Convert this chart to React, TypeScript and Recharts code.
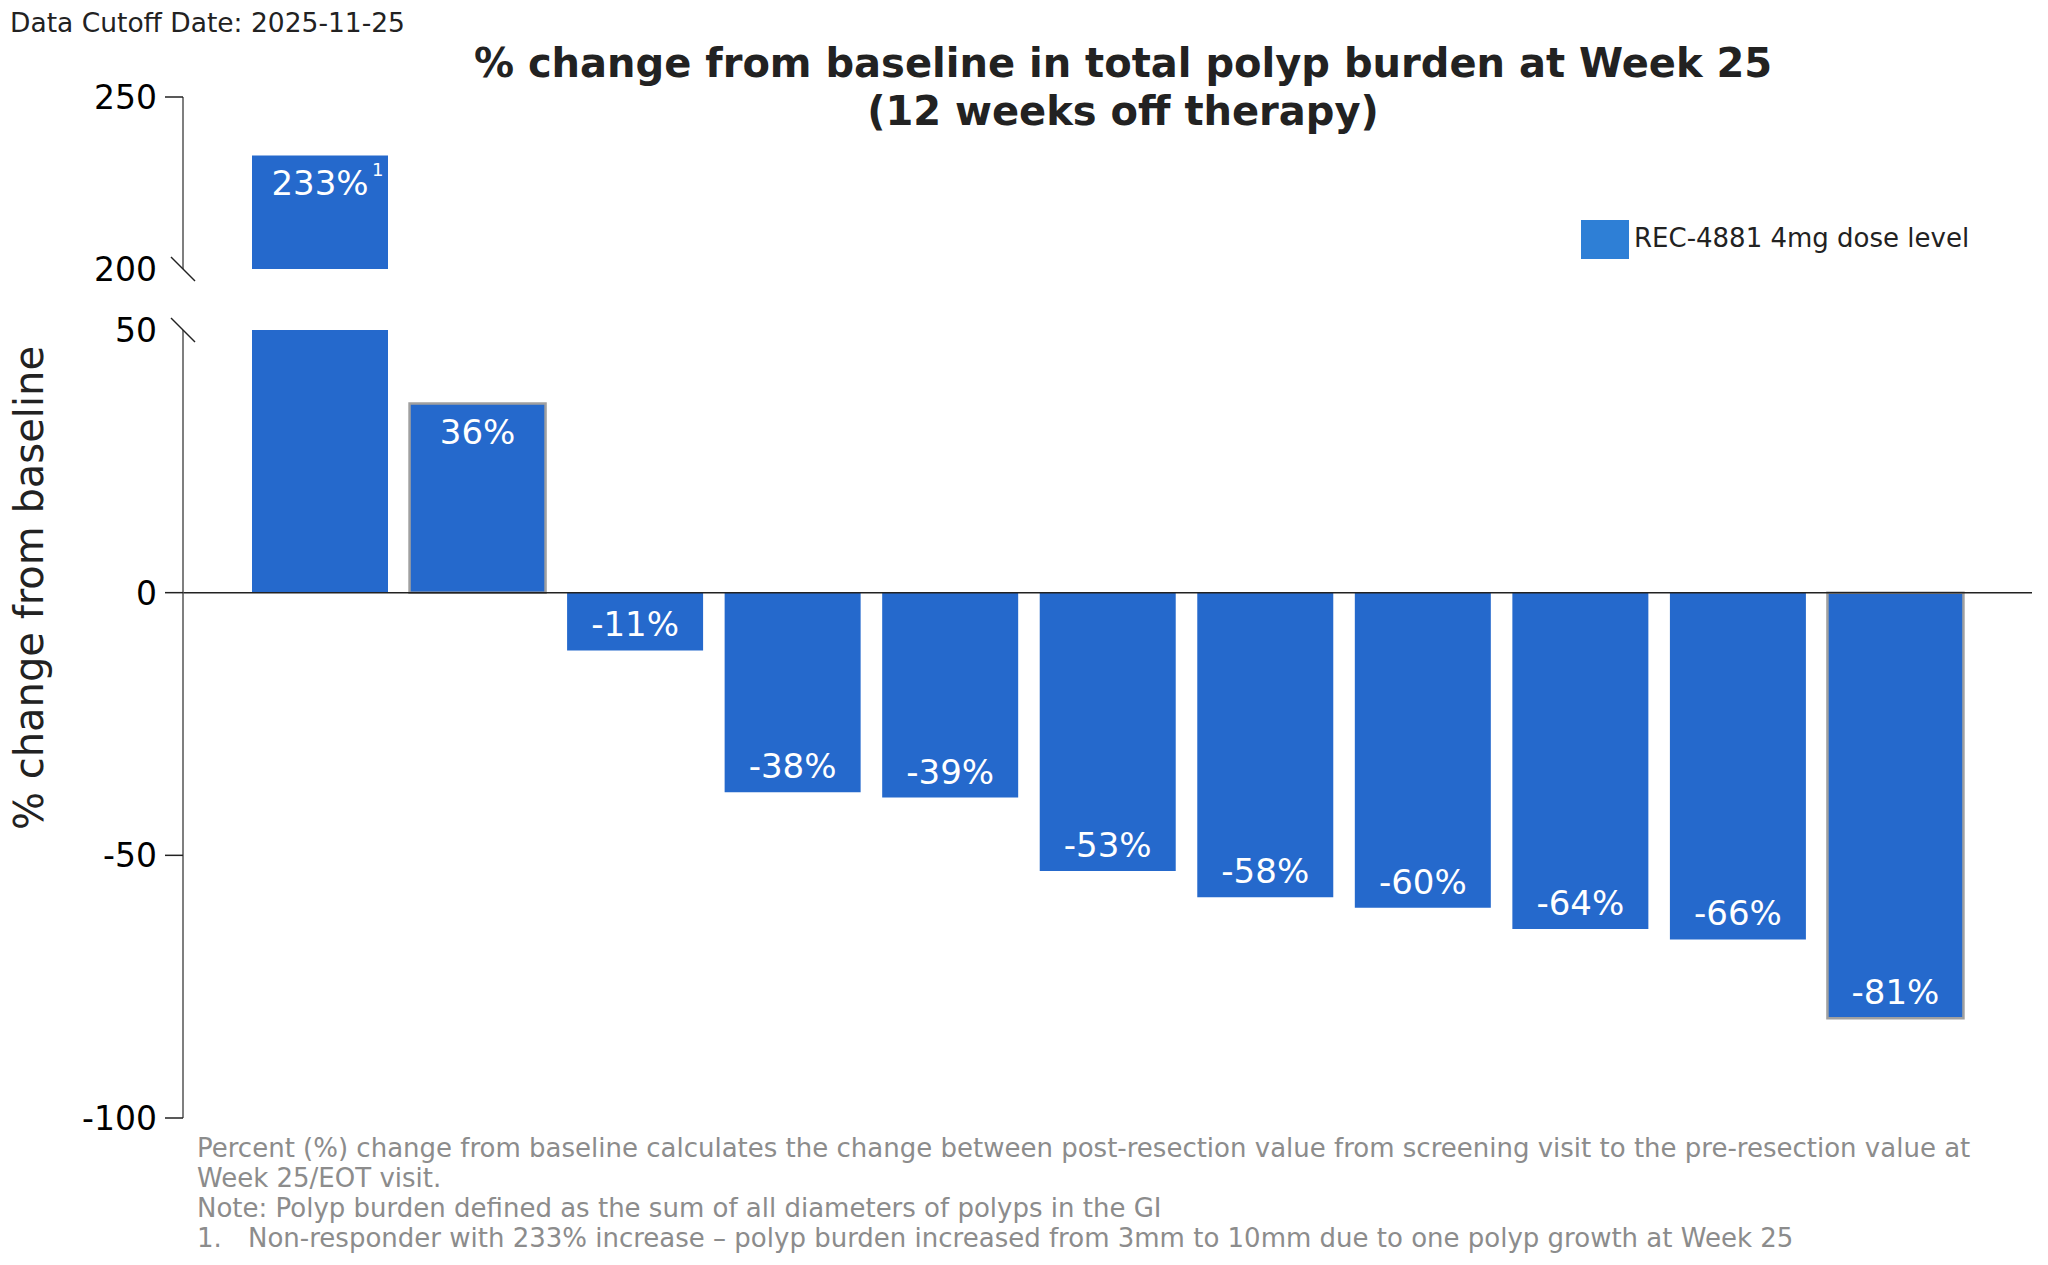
import { BarChart, Bar, XAxis, YAxis, Cell, LabelList, ReferenceLine } from 'recharts';

const patients = ['P01', 'P02', 'P03', 'P04', 'P05', 'P06', 'P07', 'P08', 'P09', 'P10', 'P11'];
const changePct = [233, 36, -11, -38, -39, -53, -58, -60, -64, -66, -81];
const footnoteMarks = ['1', '', '', '', '', '', '', '', '', '', ''];
const lowerTicks = [-100, -50, 0, 50];
const upperTicks = [200, 250];
const breakTicks = [50, 200];
const outlinedBars = ['P02', 'P11'];

const seriesName = 'REC-4881 4mg dose level';
const cutoffText = 'Data Cutoff Date: 2025-11-25';
const titleLines = ['% change from baseline in total polyp burden at Week 25', '(12 weeks off therapy)'];
const yLabel = '% change from baseline';
const notes = [
  'Percent (%) change from baseline calculates the change between post-resection value from screening visit to the pre-resection value at',
  'Week 25/EOT visit.',
  'Note: Polyp burden defined as the sum of all diameters of polyps in the GI',
];
const numberedNote = ['1.', 'Non-responder with 233% increase \u2013 polyp burden increased from 3mm to 10mm due to one polyp growth at Week 25'];

const FONT = '"DejaVu Sans", Verdana, sans-serif';
const BAR = '#2569CC';
const LEGEND_BLUE = '#2E7FD6';
const NOTE_GREY = '#8C8C8C';
const TICK_SIZE = 18;
const TICK_MARGIN = 8;
const LOWER_MAX = 50;

const data = patients.map((id, i) => ({
  id,
  lower: changePct[i],
  upper: changePct[i] >= 200 ? changePct[i] : null,
  note: footnoteMarks[i],
}));

const AxisTick = (props: any) => {
  const { x, y, payload } = props;
  const ax = x + TICK_SIZE + TICK_MARGIN;
  const isBreak = breakTicks.includes(payload.value);
  return (
    <g>
      {isBreak ? (
        <line x1={ax - 12} y1={y - 12} x2={ax + 12} y2={y + 12} stroke="#222" strokeWidth={1.5} />
      ) : (
        <line x1={ax - TICK_SIZE} y1={y} x2={ax} y2={y} stroke="#222" strokeWidth={1.5} />
      )}
      <text x={x} y={y} dy="0.36em" textAnchor="end" fontSize={33} fill="#000" fontFamily={FONT}>
        {payload.value}
      </text>
    </g>
  );
};

const barLabel = (maxShown: number) => (props: any) => {
  const { x, y, width, height, value, index } = props;
  if (value == null || value > maxShown) return null;
  const top = Math.min(y, y + height);
  const bottom = Math.max(y, y + height);
  const cx = x + width / 2;
  const ty = value >= 0 ? top + 40 : bottom - 14;
  const mark = data[index] ? data[index].note : '';
  return (
    <g>
      <text x={cx} y={ty} textAnchor="middle" fontSize={34} fill="#fff" fontFamily={FONT}>
        {`${value}%`}
      </text>
      {mark && maxShown > LOWER_MAX ? (
        <text x={cx + 52} y={ty - 19} fontSize={18} fill="#fff" fontFamily={FONT}>
          {mark}
        </text>
      ) : null}
    </g>
  );
};

export default function App() {
  return (
    <div style={{ position: 'relative', width: 2048, height: 1265, margin: -8, background: '#fff', overflow: 'hidden' }}>
      <div style={{ position: 'absolute', left: 0, top: 0 }}>
        <BarChart width={2048} height={1130} data={data} margin={{ top: 330, right: 16, left: 0, bottom: 12 }} barSize={136}>
          <XAxis
            dataKey="id"
            padding={{ left: 58, right: 58 }}
            tick={false}
            tickLine={false}
            height={0}
            axisLine={{ stroke: '#333', strokeWidth: 2 }}
          />
          <YAxis
            width={183}
            type="number"
            domain={[-100, 50]}
            ticks={lowerTicks}
            interval={0}
            allowDataOverflow
            tickLine={false}
            tickSize={TICK_SIZE}
            tickMargin={TICK_MARGIN}
            tick={<AxisTick />}
            axisLine={{ stroke: '#555', strokeWidth: 1.5 }}
          />
          <ReferenceLine y={0} stroke="#222" strokeWidth={1.5} />
          <Bar dataKey="lower" fill={BAR} isAnimationActive={false}>
            {data.map((d) => (
              <Cell
                key={d.id}
                stroke={outlinedBars.includes(d.id) ? '#A0A0A0' : 'none'}
                strokeWidth={outlinedBars.includes(d.id) ? 2.5 : 0}
              />
            ))}
            <LabelList dataKey="lower" content={barLabel(LOWER_MAX)} />
          </Bar>
        </BarChart>
      </div>
      <div style={{ position: 'absolute', left: 0, top: 0 }}>
        <BarChart width={2048} height={290} data={data} margin={{ top: 97, right: 16, left: 0, bottom: 21 }} barSize={136}>
          <XAxis dataKey="id" hide padding={{ left: 58, right: 58 }} />
          <YAxis
            width={183}
            type="number"
            domain={[200, 250]}
            ticks={upperTicks}
            interval={0}
            allowDataOverflow
            tickLine={false}
            tickSize={TICK_SIZE}
            tickMargin={TICK_MARGIN}
            tick={<AxisTick />}
            axisLine={{ stroke: '#555', strokeWidth: 1.5 }}
          />
          <Bar dataKey="upper" name={seriesName} fill={BAR} isAnimationActive={false}>
            <LabelList dataKey="upper" content={barLabel(Infinity)} />
          </Bar>
        </BarChart>
      </div>
      <svg
        width={2048}
        height={1265}
        style={{ position: 'absolute', left: 0, top: 0, pointerEvents: 'none' }}
        fontFamily={FONT}
      >
        <text x={10} y={32} fontSize={26.5} fill="#222">{cutoffText}</text>
        <text x={1123} y={77} fontSize={40} fontWeight="bold" textAnchor="middle" fill="#222">{titleLines[0]}</text>
        <text x={1123} y={125} fontSize={40} fontWeight="bold" textAnchor="middle" fill="#222">{titleLines[1]}</text>
        <text x={43} y={588} fontSize={40} textAnchor="middle" fill="#222" transform="rotate(-90 43 588)">{yLabel}</text>
        <rect x={1581} y={220} width={48} height={39} fill={LEGEND_BLUE} />
        <text x={1634} y={247} fontSize={26} fill="#222">{seriesName}</text>
        {notes.map((n, i) => (
          <text key={i} x={197} y={1157 + i * 30} fontSize={26} fill={NOTE_GREY}>{n}</text>
        ))}
        <text x={197} y={1247} fontSize={26} fill={NOTE_GREY}>{numberedNote[0]}</text>
        <text x={248} y={1247} fontSize={26} fill={NOTE_GREY}>{numberedNote[1]}</text>
      </svg>
    </div>
  );
}
